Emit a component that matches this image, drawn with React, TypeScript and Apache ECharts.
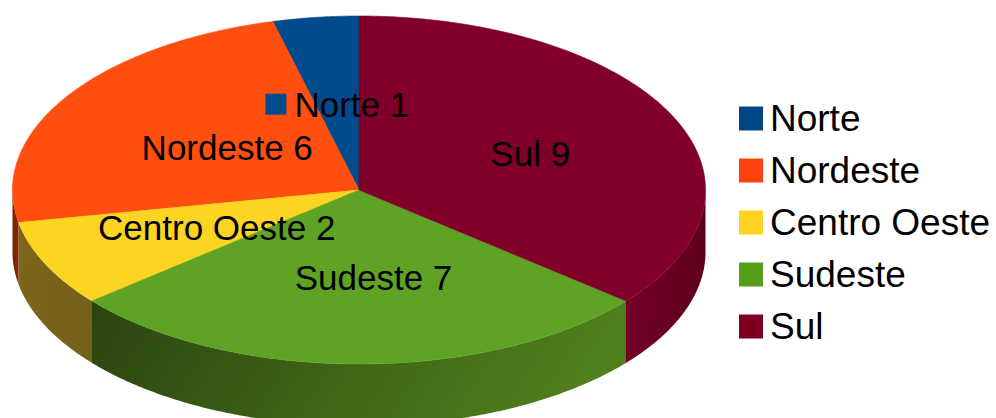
import React, { useEffect, useRef } from "react";
import * as echarts from "echarts";

const categories = ["Norte", "Nordeste", "Centro Oeste", "Sudeste", "Sul"];
const values = [1, 6, 2, 7, 9];
const topColors = ["#004b8c", "#ff4f10", "#fcd422", "#5fa325", "#80002a"];
const legendColors = ["#004586", "#ff420e", "#ffd320", "#579d1c", "#7e0021"];
const sideColors = [
  ["#002a50", "#002a50"],
  ["#7a1a05", "#8a2a08"],
  ["#7d6618", "#75601a"],
  ["#2b4410", "#50801d"],
  ["#78002a", "#5e001c"],
];

const FONT = "Liberation Sans";
const CX = 359;
const CY = 190;
const RX = 346.5;
const RY = 174;
const DEPTH = 62;
const LABEL_R = 0.5;
const LABEL_NUDGE_Y = [0, 4, 0, 0, 0];
const total = values.reduce((a, b) => a + b, 0);
const toAngle = (v: number) => (v / total) * Math.PI * 2;
const startOf = (i: number) => toAngle(values.slice(0, i).reduce((a, b) => a + b, 0));

const rim = (t: number, dy = 0) => [CX - RX * Math.sin(t), CY - RY * Math.cos(t) + dy];
const arc = (a: number, b: number, dy = 0) => {
  const n = Math.max(2, Math.ceil((b - a) / 0.01));
  const pts: number[][] = [];
  for (let k = 0; k <= n; k++) pts.push(rim(a + ((b - a) * k) / n, dy));
  return pts;
};

const sliceSeries = categories.map((name, i) => ({
  type: "custom",
  name,
  coordinateSystem: "none",
  silent: true,
  z: 2,
  itemStyle: { color: legendColors[i] },
  data: [[values[i]]],
  renderItem: (_p: any, api: any) => {
    const a = startOf(i);
    const b = a + toAngle(api.value(0));
    const children: any[] = [];
    const sa = Math.max(a, Math.PI / 2);
    const sb = Math.min(b, (Math.PI * 3) / 2);
    if (sb > sa) {
      const upper = arc(sa, sb);
      const lower = arc(sa, sb, DEPTH).reverse();
      children.push({
        type: "polygon",
        shape: { points: upper.concat(lower) },
        style: {
          fill: {
            type: "linear", x: 0, y: 0, x2: 1, y2: 0.15,
            colorStops: [
              { offset: 0, color: sideColors[i][0] },
              { offset: 1, color: sideColors[i][1] },
            ],
          },
        },
      });
    }
    children.push({
      type: "polygon",
      shape: { points: [[CX, CY], ...arc(a, b)] },
      style: { fill: topColors[i], stroke: topColors[i], lineWidth: 0.6 },
    });
    return { type: "group", children };
  },
}));

const labelSeries = {
  type: "custom",
  name: "labels",
  coordinateSystem: "none",
  silent: true,
  z: 10,
  data: values.map((v) => [v]),
  renderItem: (p: any, api: any) => {
    const i = p.dataIndex;
    const mid = startOf(i) + toAngle(api.value(0)) / 2;
    return {
      type: "text",
      x: CX - RX * LABEL_R * Math.sin(mid),
      y: CY - RY * LABEL_R * Math.cos(mid) + 0.5 + LABEL_NUDGE_Y[i],
      style: {
        text: `{m| }{t|${categories[i]} ${api.value(0)}}`,
        align: "center",
        verticalAlign: "middle",
        rich: {
          m: { width: 21, height: 21, backgroundColor: topColors[i], fontSize: 10 },
          t: { fontFamily: FONT, fontSize: 35, fill: "#000", padding: [0, 0, 0, 8] },
        },
      },
    };
  },
};

export default function App() {
  const ref = useRef<HTMLDivElement>(null);
  useEffect(() => {
    document.body.style.margin = "0";
    const chart = echarts.init(ref.current!, undefined, { renderer: "svg" });
    chart.setOption({
      animation: false,
      backgroundColor: "#fff",
      legend: {
        data: categories,
        orient: "vertical",
        left: 734,
        top: 95,
        icon: "rect",
        itemWidth: 24,
        itemHeight: 24,
        itemGap: 15,
        selectedMode: false,
        textStyle: { fontFamily: FONT, fontSize: 37, lineHeight: 36, color: "#000", padding: [0, 0, 0, 2] },
      },
      series: [...sliceSeries, labelSeries],
    });
    return () => chart.dispose();
  }, []);
  return <div ref={ref} style={{ width: 996, height: 418 }} />;
}
